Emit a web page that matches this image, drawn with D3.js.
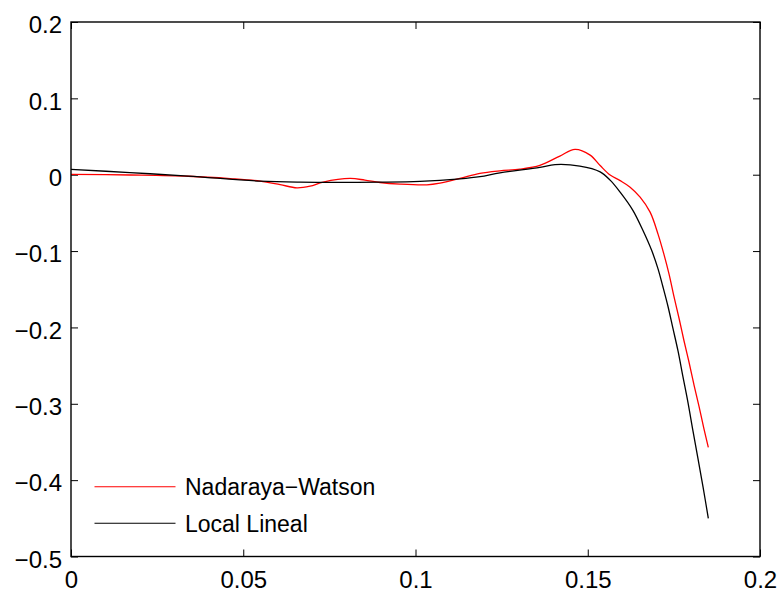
<!DOCTYPE html>
<html>
<head>
<meta charset="utf-8">
<script src="https://cdn.jsdelivr.net/npm/d3@7"></script>
<style>
  html, body { margin: 0; padding: 0; background: #fff; }
  svg text { font-family: "Liberation Sans", Arial, Helvetica, sans-serif; }
</style>
</head>
<body>
<svg id="chart" width="780" height="590"></svg>
<script>
// Kernel regression estimates: Nadaraya–Watson vs local linear
const nwX = [0, 0.0171, 0.034, 0.0462, 0.0549, 0.0607, 0.0656, 0.0694, 0.0732, 0.081, 0.0853,
  0.0897, 0.0955, 0.1033, 0.1071, 0.1129, 0.1187, 0.1245, 0.1303, 0.1361, 0.1419, 0.1463,
  0.1507, 0.1536, 0.1565, 0.1594, 0.1623, 0.1652, 0.1681, 0.1704, 0.1721, 0.1736, 0.175,
  0.1765, 0.1779, 0.1794, 0.1808, 0.1823, 0.1837, 0.185];
const nwY = [0.0005, -0.0004, -0.002, -0.0051, -0.0084, -0.013, -0.0172, -0.015, -0.0097, -0.0049, -0.0071,
  -0.0102, -0.0123, -0.0132, -0.011, -0.0049, 0.0017, 0.0051, 0.0073, 0.0122, 0.0244, 0.0332,
  0.0257, 0.012, -0.0005, -0.0077, -0.0163, -0.0294, -0.049, -0.0778, -0.1041, -0.1303, -0.1591,
  -0.188, -0.2168, -0.2456, -0.2745, -0.3033, -0.3321, -0.357];

const llX = [0, 0.0171, 0.034, 0.0549, 0.0665, 0.0897, 0.1013, 0.1129, 0.1187, 0.1245, 0.1361,
  0.1405, 0.1477, 0.1536, 0.1565, 0.1594, 0.1631, 0.166, 0.1686, 0.1704, 0.1718, 0.1733, 0.1747,
  0.1762, 0.1776, 0.1791, 0.1805, 0.182, 0.1835, 0.185];
const llY = [0.007, 0.0028, -0.0018, -0.0084, -0.0097, -0.0097, -0.0088, -0.0054, -0.0025, 0.0025, 0.0096,
  0.0132, 0.0113, 0.0038, -0.0071, -0.0228, -0.0466, -0.0728, -0.0997, -0.1233, -0.1464, -0.1726, -0.2007,
  -0.2308, -0.2637, -0.2984, -0.3345, -0.3718, -0.4098, -0.45];

const xTicks = [0, 0.05, 0.1, 0.15, 0.2];
const xTickLabels = ["0", "0.05", "0.1", "0.15", "0.2"];
const yTicks = [0.2, 0.1, 0, -0.1, -0.2, -0.3, -0.4, -0.5];
const yTickLabels = ["0.2", "0.1", "0", "\u22120.1", "\u22120.2", "\u22120.3", "\u22120.4", "\u22120.5"];

const seriesNames = ["Nadaraya\u2212Watson", "Local Lineal"];
const seriesColors = ["#ff0000", "#000000"];

const svg = d3.select("#chart");
const plotLeft = 71, plotRight = 760, plotTop = 22, plotBottom = 556.5;
const fontSize = 24;

const x = d3.scaleLinear().domain([0, 0.2]).range([plotLeft, plotRight]);
const y = d3.scaleLinear().domain([-0.5, 0.2]).range([plotBottom, plotTop]);

const tickLen = 7;

// axes with inward ticks on all four sides
const axB = d3.axisBottom(x).tickValues(xTicks).tickFormat((d, i) => xTickLabels[i])
  .tickSizeInner(-tickLen).tickSizeOuter(0).tickPadding(14);
const axT = d3.axisTop(x).tickValues(xTicks).tickFormat("")
  .tickSizeInner(-tickLen).tickSizeOuter(0);
const axL = d3.axisLeft(y).tickValues(yTicks).tickFormat((d, i) => yTickLabels[i])
  .tickSizeInner(-tickLen).tickSizeOuter(0).tickPadding(9);
const axR = d3.axisRight(y).tickValues(yTicks).tickFormat("")
  .tickSizeInner(-tickLen).tickSizeOuter(0);

function styleAxis(g) {
  g.select(".domain").remove();
  g.selectAll(".tick line").attr("stroke", "#000").attr("stroke-width", 1);
  g.selectAll(".tick text").attr("fill", "#000").style("font-size", fontSize + "px");
}

svg.append("g").attr("transform", `translate(0,${plotBottom})`).call(axB).call(styleAxis);
svg.append("g").attr("transform", `translate(0,${plotTop})`).call(axT).call(styleAxis);
svg.append("g").attr("transform", `translate(${plotLeft},0)`).call(axL).call(styleAxis)
  .selectAll(".tick text").attr("dy", "0.45em");
svg.append("g").attr("transform", `translate(${plotRight},0)`).call(axR).call(styleAxis);

// curves
const line = d3.line().x(d => x(d[0])).y(d => y(d[1])).curve(d3.curveCatmullRom.alpha(0.5));
const series = [
  d3.zip(nwX, nwY),
  d3.zip(llX, llY)
];
svg.append("g").selectAll("path").data(series).join("path")
  .attr("d", line)
  .attr("fill", "none")
  .attr("stroke", (d, i) => seriesColors[i])
  .attr("stroke-width", 1.3);

// plot box
svg.append("rect")
  .attr("x", plotLeft).attr("y", plotTop)
  .attr("width", plotRight - plotLeft).attr("height", plotBottom - plotTop)
  .attr("fill", "none").attr("stroke", "#000").attr("stroke-width", 1.4);

// legend
const legend = svg.append("g");
const legRows = [486.7, 523.3];
seriesNames.forEach((name, i) => {
  legend.append("line")
    .attr("x1", 94.5).attr("x2", 175.5)
    .attr("y1", legRows[i]).attr("y2", legRows[i])
    .attr("stroke", seriesColors[i]).attr("stroke-width", 1.1);
  legend.append("text")
    .attr("x", 185).attr("y", legRows[i] + 8.5)
    .style("font-size", "23px")
    .attr("fill", "#000")
    .text(name);
});
</script>
</body>
</html>
